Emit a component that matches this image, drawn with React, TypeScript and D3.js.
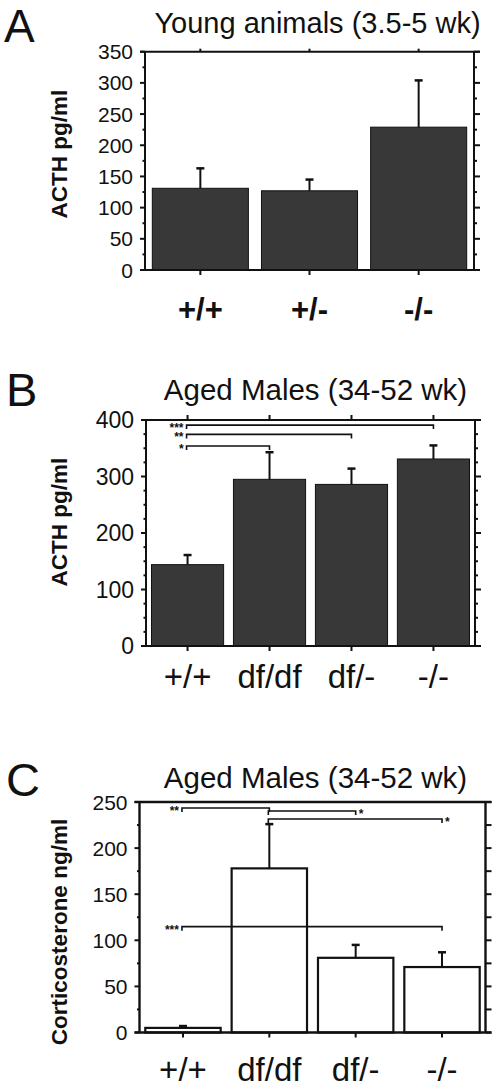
import React from "react";
import * as d3 from "d3";

// ---------- Data ----------
const categoriesYoung = ["+/+", "+/-", "-/-"];
const acthYoungMean = [131, 127, 229];
const acthYoungSem = [32, 18, 75];
const ticksYoung = [0, 50, 100, 150, 200, 250, 300, 350];

const categoriesAged = ["+/+", "df/df", "df/-", "-/-"];
const acthAgedMean = [144, 295, 286, 331];
const acthAgedSem = [17, 48, 28, 24];
const ticksActhAged = [0, 100, 200, 300, 400];

const corticoMean = [5, 178, 81, 71];
const corticoSem = [2, 48, 14, 16];
const ticksCortico = [0, 50, 100, 150, 200, 250];

type Bracket = { from: number; to: number; y: number; label: string; side: "left" | "right" };

const bracketsActhAged: Bracket[] = [
  { from: 0, to: 3, y: 391, label: "***", side: "left" },
  { from: 0, to: 2, y: 374.5, label: "**", side: "left" },
  { from: 0, to: 1, y: 354, label: "*", side: "left" },
];

const bracketsCortico: Bracket[] = [
  { from: 0, to: 1, y: 243.5, label: "**", side: "left" },
  { from: 1, to: 2, y: 240.3, label: "*", side: "right" },
  { from: 1, to: 3, y: 231.5, label: "*", side: "right" },
  { from: 0, to: 3, y: 114.8, label: "***", side: "left" },
];

const FONT = "'Liberation Sans', Arial, Helvetica, sans-serif";
const INK = "#111";

type PanelProps = {
  letter: string;
  letterX: number;
  letterY: number;
  letterSize: number;
  title: string;
  titleX: number;
  titleY: number;
  titleSize: number;
  yLabel: string;
  yLabelY: number;
  categories: string[];
  means: number[];
  sems: number[];
  ticks: number[];
  minorStep: number;
  left: number;
  right: number;
  top: number;
  bottom: number;
  filled: boolean;
  brackets: Bracket[];
  tickFont: number;
  catBold: boolean;
  catY: number;
  topTicks: number;
  rightMinorLen: number;
  axisWidth: number;
};

function Panel(p: PanelProps) {
  const max = p.ticks[p.ticks.length - 1];
  const y = d3.scaleLinear().domain([0, max]).range([p.bottom, p.top]);
  const x = d3
    .scaleBand<string>()
    .domain(p.categories)
    .range([p.left, p.right])
    .paddingInner(p.filled ? 0.12 : 0.127)
    .paddingOuter(0.067);
  const minor = d3.range(0, max + 0.001, p.minorStep).filter((v) => !p.ticks.includes(v));
  const cx = (c: string) => (x(c) as number) + x.bandwidth() / 2;

  return (
    <g fontFamily={FONT}>
      <text x={p.letterX} y={p.letterY} fontSize={p.letterSize} fill={INK}>
        {p.letter}
      </text>
      <text x={p.titleX} y={p.titleY} fontSize={p.titleSize} textAnchor="middle" fill={INK}>
        {p.title}
      </text>
      <text
        transform={`translate(67,${p.yLabelY}) rotate(-90)`}
        fontSize={22.5}
        fontWeight="bold"
        textAnchor="middle"
        fill={INK}
      >
        {p.yLabel}
      </text>

      {/* bars */}
      {p.categories.map((c, i) => (
        <rect
          key={"b" + c}
          x={x(c)}
          y={y(p.means[i])}
          width={x.bandwidth()}
          height={p.bottom - y(p.means[i])}
          fill={p.filled ? "#383838" : "#fff"}
          stroke={INK}
          strokeWidth={p.filled ? 1 : 2.2}
        />
      ))}
      {/* error bars */}
      {p.categories.map((c, i) => {
        const xc = cx(c);
        const y0 = y(p.means[i]);
        const y1 = y(p.means[i] + p.sems[i]);
        return (
          <g key={"e" + c} stroke={INK}>
            <line x1={xc} x2={xc} y1={y0} y2={y1} strokeWidth={2} />
            <line x1={xc - 4} x2={xc + 4} y1={y1} y2={y1} strokeWidth={2.5} />
          </g>
        );
      })}

      {/* frame */}
      <g stroke={INK} strokeWidth={p.axisWidth}>
        <line x1={p.left} x2={p.left} y1={p.top} y2={p.bottom} />
        <line x1={p.right} x2={p.right} y1={p.top} y2={p.bottom} />
        <line x1={p.left - 5} x2={p.right + 6} y1={p.top} y2={p.top} />
        <line x1={p.left - 5} x2={p.right + 6} y1={p.bottom} y2={p.bottom} />
      </g>
      <g stroke={INK} strokeWidth={2}>
        {p.ticks.map((t) => (
          <g key={"t" + t}>
            <line x1={p.left - 5} x2={p.left} y1={y(t)} y2={y(t)} />
            <line x1={p.right} x2={p.right + 6} y1={y(t)} y2={y(t)} />
          </g>
        ))}
        {minor.map((t) => (
          <g key={"m" + t}>
            <line x1={p.left - 2.5} x2={p.left} y1={y(t)} y2={y(t)} />
            <line x1={p.right} x2={p.right + p.rightMinorLen} y1={y(t)} y2={y(t)} />
          </g>
        ))}
        {p.categories.map((c) => (
          <g key={"xt" + c}>
            <line x1={cx(c)} x2={cx(c)} y1={p.bottom} y2={p.bottom + 5} />
            {p.topTicks > 0 && <line x1={cx(c)} x2={cx(c)} y1={p.top} y2={p.top - p.topTicks} />}
          </g>
        ))}
      </g>
      {/* tick labels */}
      {p.ticks.map((t) => (
        <text
          key={"tl" + t}
          x={p.left - 12}
          y={y(t)}
          dy="0.36em"
          fontSize={p.tickFont}
          textAnchor="end"
          fill={INK}
        >
          {t}
        </text>
      ))}
      {/* category labels */}
      {p.categories.map((c) => (
        <text
          key={"cl" + c}
          x={cx(c)}
          y={p.catY}
          fontSize={p.catBold ? 31 : 33}
          fontWeight={p.catBold ? "bold" : "normal"}
          textAnchor="middle"
          fill={INK}
        >
          {c}
        </text>
      ))}

      {/* significance brackets */}
      {p.brackets.map((b, i) => {
        const x1 = cx(p.categories[b.from]) - 1;
        const x2 = cx(p.categories[b.to]);
        const yy = y(b.y);
        return (
          <g key={"br" + i}>
            <path
              d={`M${x1},${yy + 4}V${yy}H${x2}V${yy + 4}`}
              fill="none"
              stroke={INK}
              strokeWidth={1.6}
            />
            <text
              x={b.side === "left" ? x1 - 3 : x2 + 3}
              y={yy + 7}
              fontSize={12}
              fontWeight="bold"
              textAnchor={b.side === "left" ? "end" : "start"}
              fill={INK}
            >
              {b.label}
            </text>
          </g>
        );
      })}
    </g>
  );
}

export default function App() {
  return (
    <svg
      width={500}
      height={1091}
      viewBox="0 0 500 1091"
      style={{ position: "absolute", left: 0, top: 0, background: "#fff" }}
    >
      <rect x={0} y={0} width={500} height={1091} fill="#fff" />
      <Panel
        letter="A"
        letterX={4}
        letterY={42}
        letterSize={46}
        title="Young animals (3.5-5 wk)"
        titleX={317.5}
        titleY={33}
        titleSize={29}
        yLabel="ACTH pg/ml"
        yLabelY={154}
        categories={categoriesYoung}
        means={acthYoungMean}
        sems={acthYoungSem}
        ticks={ticksYoung}
        minorStep={25}
        left={145}
        right={474}
        top={51.7}
        bottom={270}
        filled={true}
        brackets={[]}
        tickFont={21}
        catBold={true}
        catY={320}
        topTicks={3}
        rightMinorLen={3}
        axisWidth={2}
      />
      <Panel
        letter="B"
        letterX={6}
        letterY={406}
        letterSize={47}
        title="Aged Males (34-52 wk)"
        titleX={315.5}
        titleY={400}
        titleSize={29.5}
        yLabel="ACTH pg/ml"
        yLabelY={522}
        categories={categoriesAged}
        means={acthAgedMean}
        sems={acthAgedSem}
        ticks={ticksActhAged}
        minorStep={25}
        left={146}
        right={475}
        top={420}
        bottom={646}
        filled={true}
        brackets={bracketsActhAged}
        tickFont={23}
        catBold={false}
        catY={688}
        topTicks={5}
        rightMinorLen={3}
        axisWidth={2}
      />
      <Panel
        letter="C"
        letterX={6}
        letterY={796}
        letterSize={47}
        title="Aged Males (34-52 wk)"
        titleX={315.5}
        titleY={788}
        titleSize={29.5}
        yLabel="Corticosterone ng/ml"
        yLabelY={932}
        categories={categoriesAged}
        means={corticoMean}
        sems={corticoSem}
        ticks={ticksCortico}
        minorStep={25}
        left={139.5}
        right={485.5}
        top={802}
        bottom={1032.5}
        filled={false}
        brackets={bracketsCortico}
        tickFont={21}
        catBold={false}
        catY={1081}
        topTicks={0}
        rightMinorLen={6}
        axisWidth={2.4}
      />
    </svg>
  );
}
